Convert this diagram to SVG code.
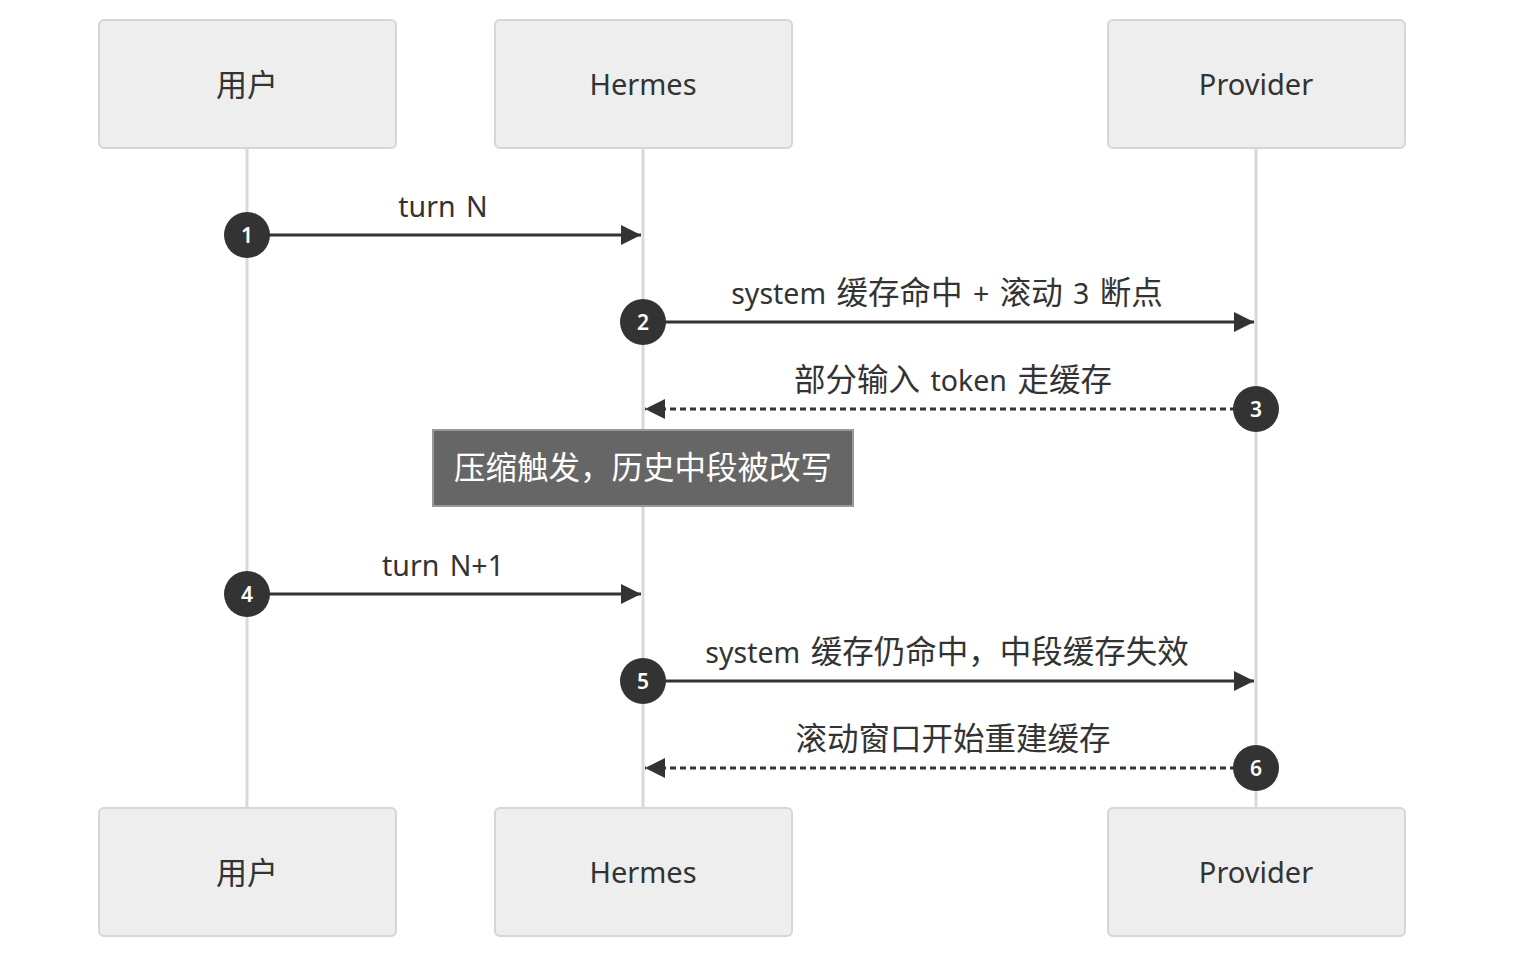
<svg xmlns="http://www.w3.org/2000/svg" width="1520" height="968" viewBox="0 0 1520 968">
<style>
.actor{fill:#eeeeee;stroke:#d6d6d6;stroke-width:2}
.atext{font-family:"Noto Sans","Noto Sans CJK SC",sans-serif;font-size:29px;fill:#333;text-anchor:middle}
.life{stroke:#d9d9d9;stroke-width:3}
.msg{stroke:#333;stroke-width:3;fill:none}
.dash{stroke-dasharray:6 4}
.mtext{font-family:"Noto Sans","Noto Sans CJK SC",sans-serif;font-size:28.5px;fill:#333;text-anchor:middle;word-spacing:3px}
.cjk{font-size:31.5px}
.cjkA{font-size:31px}
.num{fill:#333}
.ntext{font-family:"Noto Sans","Liberation Sans",sans-serif;font-size:21px;font-weight:600;fill:#fff;text-anchor:middle}
.note{fill:#666;stroke:#999;stroke-width:2}
.notetext{font-family:"Noto Sans CJK SC","Noto Sans",sans-serif;font-size:31.5px;fill:#fff;text-anchor:middle}
</style>
<defs>
<marker id="arrow" markerWidth="20" markerHeight="20" viewBox="0 0 20 20" refX="20" refY="10" orient="auto" markerUnits="userSpaceOnUse">
<path d="M0,0 L20,10 L0,20 Z" fill="#333"/>
</marker>
</defs>
<g id="lifelines">
<line class="life" x1="247" y1="148" x2="247" y2="808"/>
<line class="life" x1="643" y1="148" x2="643" y2="808"/>
<line class="life" x1="1256" y1="148" x2="1256" y2="808"/>
</g>
<g id="actor-user-top"><rect class="actor" x="99" y="20" width="297" height="128" rx="5"/><text class="atext cjkA" x="247" y="96">用户</text></g>
<g id="actor-hermes-top"><rect class="actor" x="495" y="20" width="297" height="128" rx="5"/><text class="atext" x="643" y="95">Hermes</text></g>
<g id="actor-provider-top"><rect class="actor" x="1108" y="20" width="297" height="128" rx="5"/><text class="atext" x="1256" y="95">Provider</text></g>
<g id="actor-user-bottom"><rect class="actor" x="99" y="808" width="297" height="128" rx="5"/><text class="atext cjkA" x="247" y="884">用户</text></g>
<g id="actor-hermes-bottom"><rect class="actor" x="495" y="808" width="297" height="128" rx="5"/><text class="atext" x="643" y="883">Hermes</text></g>
<g id="actor-provider-bottom"><rect class="actor" x="1108" y="808" width="297" height="128" rx="5"/><text class="atext" x="1256" y="883">Provider</text></g>
<g id="note"><rect class="note" x="433" y="430" width="420" height="76"/><text class="notetext" x="643" y="479">压缩触发，历史中段被改写</text></g>
<g id="connectors">
<line class="msg" x1="247" y1="235" x2="641" y2="235" marker-end="url(#arrow)"/>
<text class="mtext" x="443" y="217">turn N</text>
<line class="msg" x1="643" y1="322" x2="1254" y2="322" marker-end="url(#arrow)"/>
<text class="mtext" x="947" y="304">system <tspan class="cjk">缓存命中</tspan> + <tspan class="cjk">滚动</tspan> 3 <tspan class="cjk">断点</tspan></text>
<line class="msg dash" x1="1256" y1="409" x2="645" y2="409" marker-end="url(#arrow)"/>
<text class="mtext" x="953" y="391"><tspan class="cjk">部分输入</tspan> token <tspan class="cjk">走缓存</tspan></text>
<line class="msg" x1="247" y1="594" x2="641" y2="594" marker-end="url(#arrow)"/>
<text class="mtext" x="443" y="576">turn N+1</text>
<line class="msg" x1="643" y1="681" x2="1254" y2="681" marker-end="url(#arrow)"/>
<text class="mtext" x="947" y="663">system <tspan class="cjk">缓存仍命中，中段缓存失效</tspan></text>
<line class="msg dash" x1="1256" y1="768" x2="645" y2="768" marker-end="url(#arrow)"/>
<text class="mtext" x="953" y="750"><tspan class="cjk">滚动窗口开始重建缓存</tspan></text>
</g>
<g id="seq-numbers">
<circle class="num" cx="247" cy="235" r="23"/><text class="ntext" x="247" y="243">1</text>
<circle class="num" cx="643" cy="322" r="23"/><text class="ntext" x="643" y="330">2</text>
<circle class="num" cx="1256" cy="409" r="23"/><text class="ntext" x="1256" y="417">3</text>
<circle class="num" cx="247" cy="594" r="23"/><text class="ntext" x="247" y="602">4</text>
<circle class="num" cx="643" cy="681" r="23"/><text class="ntext" x="643" y="689">5</text>
<circle class="num" cx="1256" cy="768" r="23"/><text class="ntext" x="1256" y="776">6</text>
</g>
</svg>
